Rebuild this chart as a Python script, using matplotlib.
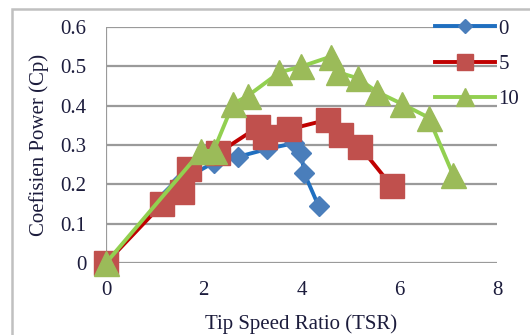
import matplotlib
matplotlib.use('Agg')
from matplotlib import pyplot as plt
from matplotlib.patches import Rectangle

plt.rcParams['font.family'] = ['Liberation Serif', 'DejaVu Serif']

# data
x_0 = [0, 1.3, 1.55, 2.2, 2.7, 3.3, 3.85, 4.0, 4.05, 4.35]
y_0 = [0, 0.175, 0.21, 0.255, 0.27, 0.29, 0.305, 0.28, 0.23, 0.145]

x_5 = [0, 1.15, 1.55, 1.7, 2.3, 3.1, 3.25, 3.75, 4.55, 4.8, 5.2, 5.85]
y_5 = [0, 0.15, 0.18, 0.24, 0.28, 0.345, 0.32, 0.34, 0.365, 0.325, 0.295, 0.195]

x_10 = [0, 1.95, 2.2, 2.6, 2.9, 3.55, 4.0, 4.6, 4.75, 5.15, 5.55, 6.05, 6.6, 7.1]
y_10 = [0, 0.285, 0.285, 0.405, 0.425, 0.485, 0.5, 0.525, 0.485, 0.47, 0.435, 0.405, 0.37, 0.225]

x_ticks = [0, 2, 4, 6, 8]
y_ticks = [0, 0.1, 0.2, 0.3, 0.4, 0.5, 0.6]
y_tick_labels = ['0', '0.1', '0.2', '0.3', '0.4', '0.5', '0.6']

txt_color = '#1c1c3c'

fig = plt.figure(figsize=(5.3, 3.35), dpi=100)
ax = fig.add_axes([0.2, 0.215, 0.7377, 0.704])

# outer chart border
fig.patches.append(Rectangle((12/530, -0.1), 1.2, 1.1 - 9/335, transform=fig.transFigure,
                             fill=False, edgecolor='#c0c0c0', linewidth=1.8))

for yv in y_ticks:
    ax.axhline(yv, color='#9a9a9a', linewidth=1.6, zorder=1)
ax.axvline(0, color='#9a9a9a', linewidth=1.6, zorder=1)

ax.plot(x_0, y_0, color='#1f6fc0', linewidth=2.8, marker='D', markersize=10,
        markerfacecolor='#4a7ebb', markeredgecolor='#4a7ebb', label='0', zorder=3, clip_on=False)
ax.plot(x_5, y_5, color='#c00000', linewidth=2.8, marker='s', markersize=17,
        markerfacecolor='#c0504d', markeredgecolor='#c0504d', label='5', zorder=4, clip_on=False)
ax.plot(x_10, y_10, color='#92d050', linewidth=2.8, marker='^', markersize=18,
        markerfacecolor='#9bbb59', markeredgecolor='#9bbb59', label='10', zorder=5, clip_on=False)

ax.set_xlim(0, 8)
ax.set_ylim(0, 0.6)
for s in ax.spines.values():
    s.set_visible(False)
ax.set_xticks(x_ticks)
ax.set_yticks(y_ticks, y_tick_labels)
ax.tick_params(length=0, labelsize=15, labelcolor=txt_color)
ax.tick_params(axis='y', pad=14)
ax.tick_params(axis='x', pad=13)

ax.set_xlabel('Tip Speed Ratio (TSR)', fontsize=15, color=txt_color, labelpad=10)
ax.set_ylabel('Coefisien Power (Cp)', fontsize=15, color=txt_color, labelpad=8)

leg = ax.legend(loc='upper left', bbox_to_anchor=(435/530, 1 - 19/335), bbox_transform=fig.transFigure,
                frameon=False, fontsize=15, handlelength=2.9, handletextpad=0.15,
                labelspacing=0.75, borderpad=0, borderaxespad=0)
for t in leg.get_texts():
    t.set_color(txt_color)
for h in leg.legend_handles:
    h.set_markersize(h.get_markersize() * 0.7)

fig.savefig('out.png', dpi=100)
